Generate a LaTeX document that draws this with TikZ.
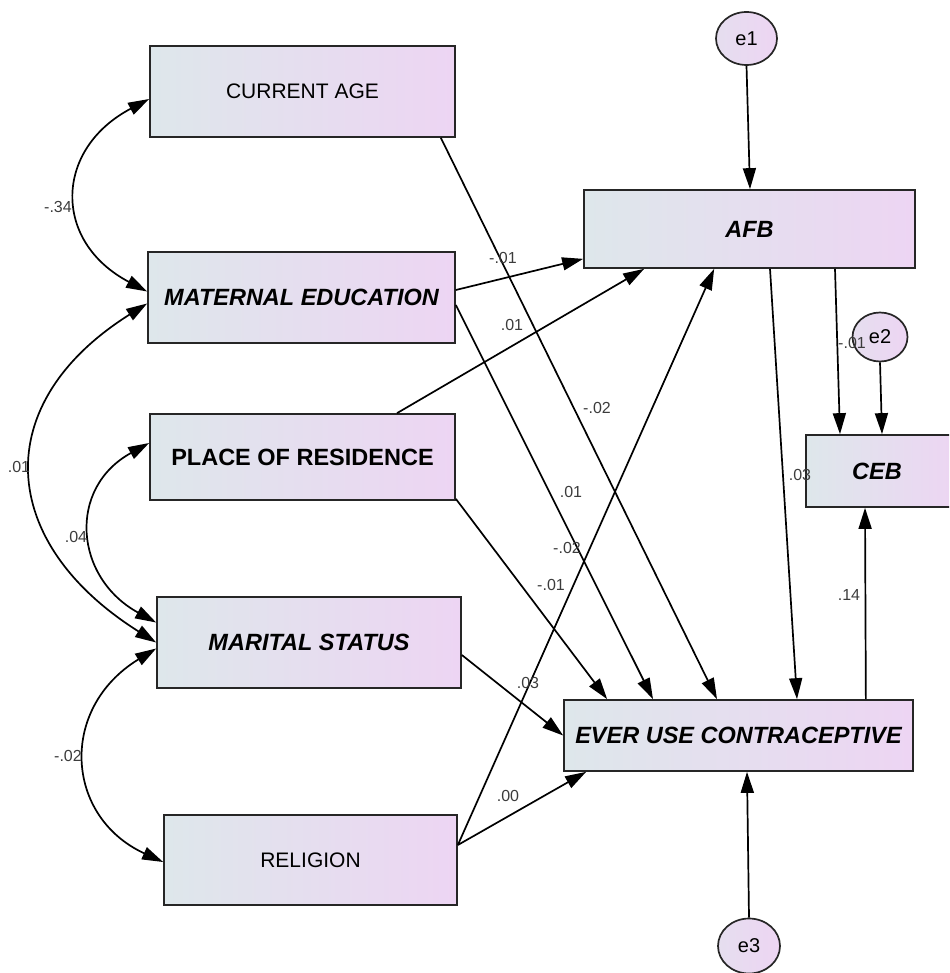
\documentclass[tikz,border=0pt]{standalone}
\usepackage{fontspec}
\setmainfont{Liberation Sans}
\usetikzlibrary{arrows.meta,shapes.geometric}
\definecolor{boxL}{RGB}{222,231,235}
\definecolor{boxR}{RGB}{237,213,243}
\definecolor{lblgray}{RGB}{60,60,60}
\begin{document}
\begin{tikzpicture}[x=1pt,y=-1pt,
  vbox/.style={rectangle, draw=black!85, line width=1.7pt, left color=boxL, right color=boxR, inner sep=0pt, font=\fontsize{21}{25}\selectfont},
  bbox/.style={vbox, font=\fontsize{23.5}{27}\selectfont\bfseries\itshape},
  pbox/.style={vbox, font=\fontsize{23.5}{27}\selectfont\bfseries},
  err/.style={ellipse, draw=black!85, line width=1.7pt, left color=boxL!50!boxR, right color=boxR, inner sep=0pt, font=\fontsize{20}{24}\selectfont},
  arr/.style={line width=1.7pt, -{Triangle[length=21pt,width=13pt]}},
  cov/.style={line width=1.7pt, {Triangle[length=21pt,width=13pt]}-{Triangle[length=21pt,width=13pt]}},
  coef/.style={font=\fontsize{16}{18}\selectfont, text=lblgray, inner sep=0pt}
]
\useasboundingbox (0,0) rectangle (949,973);
\clip (0,0) rectangle (949,973);

% observed variables
\node[vbox, minimum width=305pt, minimum height=91pt] (ca) at (302.5,91.5) {CURRENT AGE};
\node[bbox, minimum width=307pt, minimum height=91pt] (me) at (301.5,297.5) {MATERNAL EDUCATION};
\node[pbox, minimum width=305pt, minimum height=86pt] (pr) at (302.5,457) {PLACE OF RESIDENCE};
\node[bbox, minimum width=304pt, minimum height=91pt] (ms) at (309,642.5) {MARITAL STATUS};
\node[vbox, minimum width=293pt, minimum height=90pt] (rel) at (310.5,860) {RELIGION};
\node[bbox, minimum width=331pt, minimum height=78pt] (afb) at (749.5,229) {AFB};
\node[bbox, minimum width=152pt, minimum height=72pt] (ceb) at (882,471) {\hspace*{-10pt}CEB};
\node[bbox, minimum width=349pt, minimum height=71pt] (eu) at (738.5,735.5) {EVER USE CONTRACEPTIVE};

% error terms
\node[err, minimum width=61pt, minimum height=53pt] (e1) at (746.5,38.5) {e1};
\node[err, minimum width=55pt, minimum height=49pt] (e2) at (880,337) {e2};
\node[err, minimum width=62pt, minimum height=55pt] (e3) at (749,946) {e3};

% covariances
\draw[cov] ([shift={(0,7.5)}]ca.west) .. controls +(-95,50) and +(-95,-50) .. ([shift={(0,-6)}]me.west);
\draw[cov] ([shift={(0,6)}]me.west) .. controls +(-159,100) and +(-159,-100) .. (ms.west);
\draw[cov] ([shift={(0,-14)}]pr.west) .. controls +(-82,45) and +(-82,-45) .. ([shift={(0,-20)}]ms.west);
\draw[cov] ([shift={(0,6)}]ms.west) .. controls +(-98,60) and +(-98,-45) .. ([shift={(0,2)}]rel.west);

% regression paths
\draw[arr] ([shift={(-15,0)}]ca.south east) -- ([shift={(-21.5,0)}]eu.north);
\draw[arr] ([shift={(0,-7.5)}]me.east) -- ([shift={(0,-10)}]afb.south west);
\draw[arr] ([shift={(0,7.5)}]me.east) -- ([shift={(-85.5,0)}]eu.north);
\draw[arr] ([shift={(94.5,0)}]pr.north) -- ([shift={(61,0)}]afb.south west);
\draw[arr] ([shift={(0,-2)}]pr.south east) -- ([shift={(44,0)}]eu.north west);
\draw[arr] ([shift={(0,12.5)}]ms.east) -- (eu.west);
\draw[arr] ([shift={(0,-15)}]rel.east) -- ([shift={(131,0)}]afb.south west);
\draw[arr] ([shift={(0,-15)}]rel.east) -- ([shift={(23,0)}]eu.south west);
\draw[arr] ([shift={(20.5,0)}]afb.south) -- ([shift={(58.5,0)}]eu.north);
\draw[arr] ([shift={(85.5,0)}]afb.south) -- ([shift={(-42,0)}]ceb.north);
\draw[arr] ([shift={(-48,0)}]eu.north east) -- ([shift={(-17,0)}]ceb.south);
\draw[arr] (e1.south) -- ([shift={(0.5,0)}]afb.north);
\draw[arr] (e2.south) -- ([shift={(0,0)}]ceb.north);
\draw[arr] (e3.north) -- ([shift={(8.5,0)}]eu.south);

% coefficients
\node[coef] (c1) at (58,207) {-.34};
\node[coef] (c2) at (19,467) {.01};
\node[coef] (c3) at (76,537) {.04};
\node[coef] (c4) at (68,756) {-.02};
\node[coef] (c5) at (503,258) {-.01};
\node[coef] (c6) at (512,325) {.01};
\node[coef] (c7) at (597,408) {-.02};
\node[coef] (c8) at (571,492) {.01};
\node[coef] (c9) at (567,548) {-.02};
\node[coef] (c10) at (551,585) {-.01};
\node[coef] (c11) at (528,683) {.03};
\node[coef] (c12) at (508,796) {.00};
\node[coef] (c13) at (800,475) {.03};
\node[coef] (c14) at (852,343) {-.01};
\node[coef] (c15) at (849,595) {.14};
\end{tikzpicture}
\end{document}
